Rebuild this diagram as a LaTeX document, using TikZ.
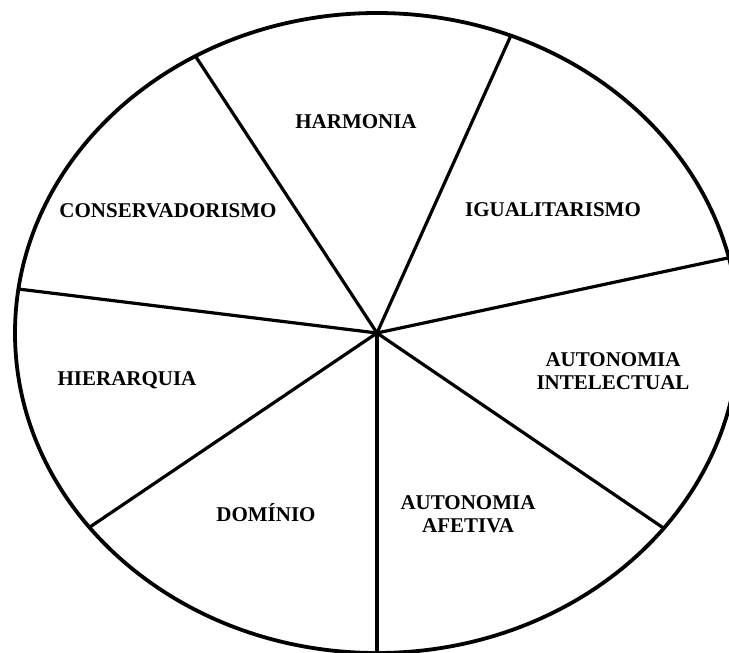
\documentclass[tikz,border=0pt]{standalone}
\usepackage{fontspec}
\setmainfont{Liberation Serif}
\usetikzlibrary{calc}
\begin{document}
\begin{tikzpicture}[x=1pt,y=-1pt,
  rim/.style={line width=3.8pt},
  spoke/.style={line width=3.2pt},
  lbl/.style={font=\fontsize{21}{23}\selectfont\bfseries, align=center, inner sep=0pt}]
\useasboundingbox (0,0) rectangle (729,653);
\clip (0,0) rectangle (729,653);
\fill[white] (0,0) rectangle (729,653);
\coordinate (c) at (377,333);
\draw[rim] (c) ellipse [x radius=362pt, y radius=320pt];
\foreach \n/\t in {p1/-120.1, p2/-68.3, p3/-13.6, p4/37.6, p5/90, p6/142.6, p7/187.9}{
  \coordinate (\n) at ($(c)+({362*cos(\t)},{320*sin(\t)})$);
}
\foreach \n in {p1,p2,p3,p4,p5,p6,p7}{
  \draw[spoke, line cap=round] (c) -- (\n);
}
\node[lbl] (harm) at (356,122) {HARMONIA};
\node[lbl] (cons) at (168,211) {CONSERVADORISMO};
\node[lbl] (igua) at (553,210) {IGUALITARISMO};
\node[lbl] (autint) at (613,371) {AUTONOMIA\\INTELECTUAL};
\node[lbl] (hier) at (127,380) {HIERARQUIA};
\node[lbl] (domi) at (266,513) {DOMÍNIO};
\node[lbl] (autaf) at (468,514) {AUTONOMIA\\AFETIVA};
\end{tikzpicture}
\end{document}
